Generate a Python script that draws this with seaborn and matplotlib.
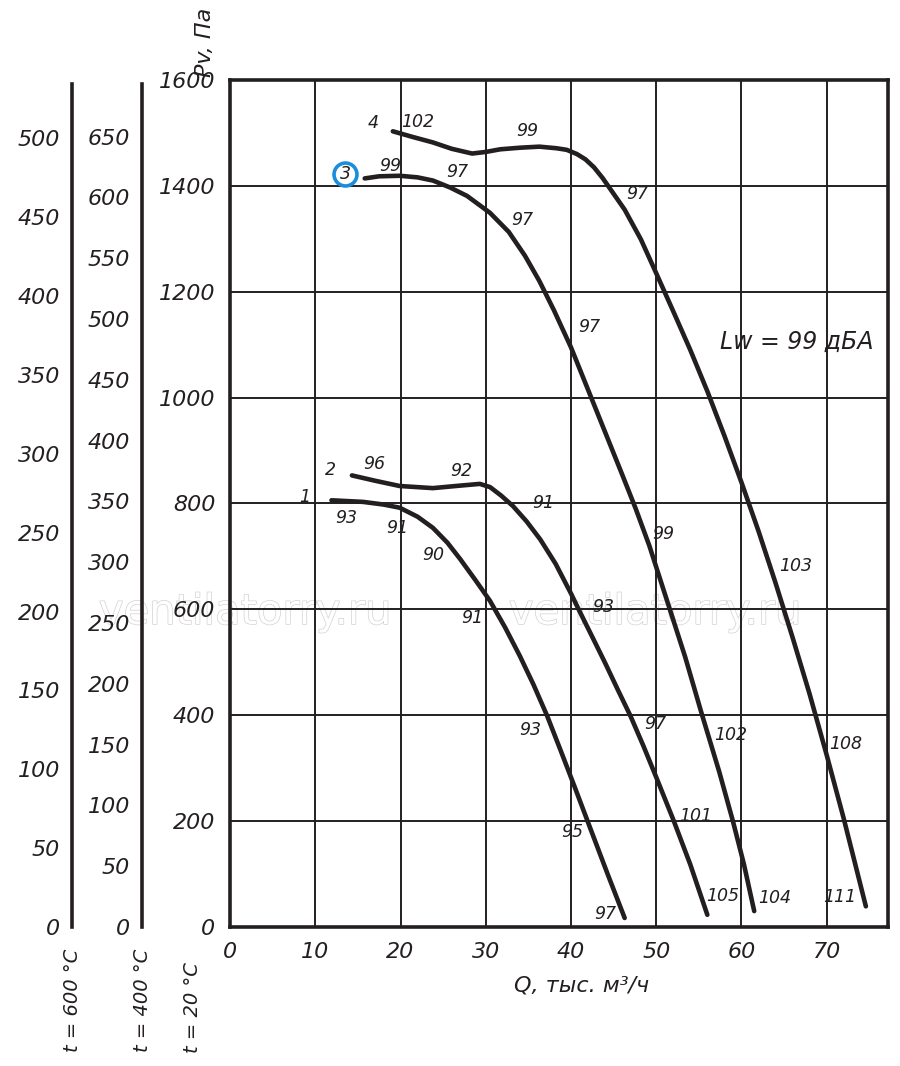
import numpy as np
import pandas as pd
import matplotlib
matplotlib.use("Agg")
import matplotlib.pyplot as plt
import matplotlib.patheffects as pe
import seaborn as sns

# fan curves: Q (thousand m3/h) and Pv (Pa)
q1 = [11.9, 15.6, 18.0, 19.9, 22.0, 23.8, 25.5, 27.0, 28.8, 30.5, 32.3, 34.0, 35.6, 37.2, 38.8, 40.4, 42.3, 44.3, 46.3]
p1 = [806, 803, 798, 792, 775, 754, 726, 695, 655, 616, 565, 512, 458, 399, 333, 266, 185, 100, 17]

q2 = [14.3, 17.0, 19.9, 23.8, 26.5, 29.3, 30.5, 31.8, 33.2, 34.8, 36.4, 38.2, 40.0, 40.9, 42.5, 44.0, 45.5, 47.0, 48.5, 50.0, 52.0, 54.0, 56.0]
p2 = [853, 843, 833, 829, 833, 837, 831, 815, 795, 766, 732, 686, 630, 600, 548, 499, 448, 398, 342, 283, 203, 118, 23]

q3 = [15.8, 17.5, 19.9, 22.0, 23.8, 25.8, 27.8, 30.5, 32.7, 34.6, 36.3, 38.0, 40.0, 42.0, 44.0, 46.0, 47.6, 49.2, 50.6, 52.0, 53.4, 55.3, 57.4, 59.0, 60.3, 61.5]
p3 = [1414, 1418, 1419, 1416, 1410, 1397, 1381, 1349, 1313, 1268, 1220, 1165, 1095, 1015, 935, 855, 790, 720, 650, 580, 510, 405, 293, 200, 118, 30]

q4 = [19.1, 21.5, 23.8, 26.0, 28.4, 30.0, 31.7, 34.0, 36.3, 38.3, 39.5, 40.7, 41.7, 42.7, 43.7, 44.7, 46.3, 48.2, 50.0, 52.0, 54.0, 56.0, 58.0, 60.0, 62.0, 64.0, 66.0, 68.0, 70.0, 72.0, 74.6]
p4 = [1503, 1492, 1482, 1470, 1461, 1464, 1469, 1472, 1474, 1471, 1468, 1460, 1450, 1435, 1415, 1392, 1355, 1299, 1235, 1163, 1090, 1012, 928, 840, 748, 650, 547, 440, 325, 205, 39]

# noise levels (dBA) and curve numbers written along the curves
note_text = ["4", "102", "99", "97",
             "3", "99", "97", "97", "97", "99", "102", "104",
             "103", "108", "111",
             "2", "96", "92", "91", "93", "97", "101", "105",
             "1", "93", "91", "90", "91", "93", "95", "97"]
note_q = [16.8, 22.0, 34.9, 47.8,
          13.5, 18.8, 26.6, 34.3, 42.2, 50.8, 58.7, 63.9,
          66.4, 72.2, 71.5,
          11.8, 16.9, 27.1, 36.7, 43.8, 49.9, 54.6, 57.8,
          8.7, 13.6, 19.6, 23.8, 28.4, 35.2, 40.2, 44.0]
note_p = [1518, 1520, 1503, 1385,
          1423, 1438, 1427, 1336, 1134, 743, 363, 55,
          682, 346, 57,
          863, 874, 861, 800, 604, 384, 209, 59,
          813, 773, 754, 703, 583, 372, 179, 25]

# density ratios for the hot-gas pressure scales
k600 = 293 / 873
k400 = 293 / 673

ink = "#231f20"

sns.set_style("white")
plt.rcParams["font.family"] = ["DejaVu Sans"]
plt.rcParams["font.style"] = "italic"
plt.rcParams["text.color"] = ink

fig = plt.figure(figsize=(9, 10.66), dpi=100)
ax = fig.add_axes([0.2556, 0.1304, 0.7311, 0.7946])
ax.patch.set_visible(False)

df = pd.concat([
    pd.DataFrame({"Q": q1, "P": p1, "curve": "1"}),
    pd.DataFrame({"Q": q2, "P": p2, "curve": "2"}),
    pd.DataFrame({"Q": q3, "P": p3, "curve": "3"}),
    pd.DataFrame({"Q": q4, "P": p4, "curve": "4"}),
])
sns.lineplot(data=df, x="Q", y="P", hue="curve", palette=[ink] * 4,
             sort=False, estimator=None, legend=False, lw=3.3, ax=ax, zorder=4)

ax.set_xlim(0, 77.2)
ax.set_ylim(0, 1600)
ax.set_xticks(range(0, 80, 10))
ax.set_yticks(range(0, 1601, 200))
ax.grid(True, color=ink, lw=1.4)
ax.set_axisbelow(True)
ax.set_xlabel("")
ax.set_ylabel("")
ax.tick_params(axis="both", direction="out", length=7, width=1.4,
               labelsize=16, color=ink, labelcolor=ink)
for s in ax.spines.values():
    s.set_linewidth(2.6)
    s.set_color(ink)

for t, q, p in zip(note_text, note_q, note_p):
    ax.text(q, p, t, fontsize=12.5, ha="center", va="center", zorder=6)

ax.plot(13.5, 1423, "o", ms=16.5, mfc="none", mec="#1b8ddb", mew=2.6, zorder=6)
ax.text(66.5, 1106, "Lw = 99 дБА", fontsize=17, ha="center", va="center", zorder=6)

# faint watermark under the grid
for xw in [245, 655]:
    fig.text(xw / 900, 1 - 612 / 1066, "ventilatorry.ru", fontsize=30, fontstyle="normal",
             ha="center", va="center", color="white", zorder=-1,
             path_effects=[pe.withStroke(linewidth=1.0, foreground="#d2d2d2")])

# extra pressure scales for hot gas
for xpix, k, top in [(72, k600, 500), (142, k400, 650)]:
    a = fig.add_axes([xpix / 900, 0.1304, 0.0005, 0.7946])
    a.set_ylim(0, 1600 * k)
    a.set_xticks([])
    for s in ["top", "right", "bottom"]:
        a.spines[s].set_visible(False)
    a.spines["left"].set_linewidth(2.6)
    a.spines["left"].set_color(ink)
    a.spines["left"].set_bounds(0, 1593 * k)
    a.set_yticks(np.arange(0, top + 1, 50))
    a.set_yticks(np.arange(25, top, 50), minor=True)
    a.tick_params(which="both", direction="out", length=5, width=1.4,
                  labelsize=16, color=ink, labelcolor=ink)
    a.patch.set_visible(False)

fig.text(205 / 900, 1 - 42 / 1066, "Pv, Па", rotation=90, fontsize=16, ha="center", va="center")
fig.text(582 / 900, 1 - 985 / 1066, "Q, тыс. м³/ч", fontsize=16, ha="center", va="center")
fig.text(72 / 900, 1 - 1000 / 1066, "t = 600 °C", rotation=90, fontsize=14, ha="center", va="center")
fig.text(143 / 900, 1 - 1000 / 1066, "t = 400 °C", rotation=90, fontsize=14, ha="center", va="center")
fig.text(193 / 900, 1 - 1008 / 1066, "t = 20 °C", rotation=90, fontsize=14, ha="center", va="center")

fig.savefig("out.png", dpi=100, facecolor="white")
